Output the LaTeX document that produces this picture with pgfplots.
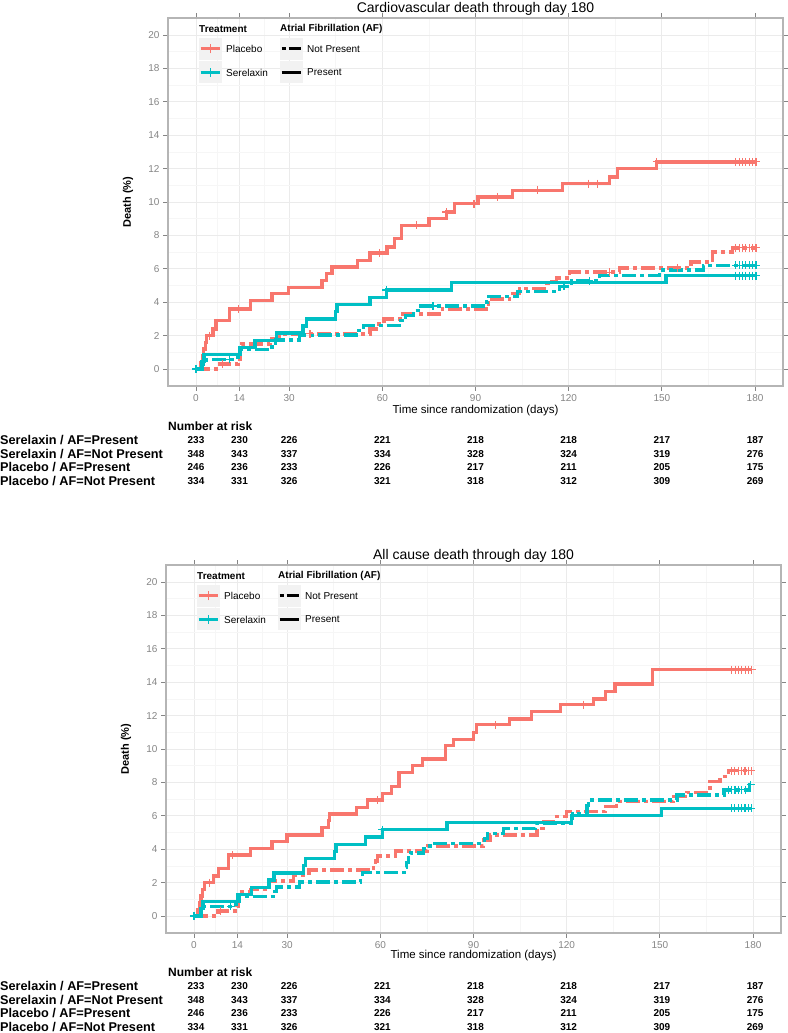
\documentclass[border=0pt]{standalone}
\usepackage{fontspec}
\setmainfont{Liberation Sans}
\usepackage{pgfplots}
\pgfplotsset{compat=1.18}
\definecolor{kmred}{HTML}{F8766D}
\definecolor{kmteal}{HTML}{00BFC4}
\definecolor{gridmaj}{HTML}{EBEBEB}
\definecolor{gridmin}{HTML}{F6F6F6}
\definecolor{frame}{HTML}{B5B5B5}
\definecolor{ticklab}{HTML}{858585}
\definecolor{keybg}{HTML}{F2F2F2}
\newcommand\fs[1]{\fontsize{#1}{#1}\selectfont}
\pgfplotsset{
  kmaxis/.style={
    scale only axis, width=615pt, height=367.4pt,
    xmin=-9, xmax=189, ymin=-1, ymax=21,
    xtick={0,14,30,60,90,120,150,180},
    ytick={0,2,4,6,8,10,12,14,16,18,20},
    minor xtick={7,22,45,75,105,135,165},
    minor ytick={1,3,5,7,9,11,13,15,17,19},
    grid=both,
    major grid style={gridmaj, line width=0.8pt},
    minor grid style={gridmin, line width=0.5pt},
    axis line style={frame, line width=2.2pt},
    tick style={ticklab, line width=0.8pt},
    tick align=outside, major tick length=5pt, minor tick length=0pt,
    ticklabel style={font=\fs{10}, text=ticklab},
    /pgf/number format/assume math mode=true,
    clip=false,
  },
  pres/.style={const plot, line width=3.3pt, line cap=butt, line join=miter},
  npres/.style={const plot, line width=3.3pt, line cap=butt, line join=miter, dash pattern=on 14pt off 4pt on 4pt off 4pt},
  cens/.style={only marks, mark=+, mark size=4pt, mark options={line width=1.1pt, solid}},
}
\newcommand\kmlegend{%
  \node[anchor=west, inner sep=0pt, font=\bfseries\fs{10}] at (199,1004) {Treatment};
  \node[anchor=west, inner sep=0pt, font=\bfseries\fs{10}] at (280,1004) {Atrial Fibrillation (AF)};
  \fill[keybg] (199,973) rectangle (221.5,995);
  \fill[keybg] (199,949.5) rectangle (221.5,971.5);
  \fill[keybg] (280,973) rectangle (302.5,995);
  \fill[keybg] (280,949.5) rectangle (302.5,971.5);
  \draw[kmred, line width=3pt] (200.5,984)--(220,984);
  \draw[kmred, line width=1pt] (210.25,979.5)--(210.25,988.5);
  \draw[kmteal, line width=3pt] (200.5,960.5)--(220,960.5);
  \draw[kmteal, line width=1pt] (210.25,956)--(210.25,965);
  \draw[black, line width=3pt] (281.5,984)--(285.5,984);
  \draw[black, line width=3pt] (288.5,984)--(301,984);
  \draw[black, line width=3pt] (281.5,960.5)--(301,960.5);
  \node[anchor=west, inner sep=0pt, font=\fs{10}] at (226,984) {Placebo};
  \node[anchor=west, inner sep=0pt, font=\fs{10}] at (226,960.5) {Serelaxin};
  \node[anchor=west, inner sep=0pt, font=\fs{10}] at (307,984) {Not Present};
  \node[anchor=west, inner sep=0pt, font=\fs{10}] at (307,960.5) {Present};
}
\newcommand\kmrisk{%
  \node[anchor=west, inner sep=0pt, font=\bfseries\fs{12}] at (168,607) {Number at risk};
  \node[anchor=west, inner sep=0pt, font=\bfseries\fs{12.7}] at (0,593) {Serelaxin / AF=Present};
  \node[anchor=west, inner sep=0pt, font=\bfseries\fs{12.7}] at (0,579.3) {Serelaxin / AF=Not Present};
  \node[anchor=west, inner sep=0pt, font=\bfseries\fs{12.7}] at (0,565.6) {Placebo / AF=Present};
  \node[anchor=west, inner sep=0pt, font=\bfseries\fs{12.7}] at (0,551.9) {Placebo / AF=Not Present};
  \foreach \x/\a/\b/\c/\d in {196/233/348/246/334, 239.5/230/343/236/331, 289.2/226/337/233/326,
      382.4/221/334/226/321, 475.5/218/328/217/318, 568.7/218/324/211/312,
      661.9/217/319/205/309, 755.1/187/276/175/269}{
    \node[inner sep=0pt, font=\bfseries\fs{10}] at (\x,593) {\a};
    \node[inner sep=0pt, font=\bfseries\fs{10}] at (\x,579.3) {\b};
    \node[inner sep=0pt, font=\bfseries\fs{10}] at (\x,565.6) {\c};
    \node[inner sep=0pt, font=\bfseries\fs{10}] at (\x,551.9) {\d};
  }
}
\begin{document}
\begin{tikzpicture}[x=1pt,y=1pt]
\path[use as bounding box] (0,0) rectangle (787,1033);
% ---------------- Top panel: cardiovascular death ----------------
\begin{axis}[kmaxis, at={(168pt,647.3pt)}, anchor=south west]
% Placebo, AF present
\addplot[pres, kmred] coordinates {(0,0) (1.5,0.4) (2,0.8) (2.5,1.2) (3,1.6) (3.5,2.0) (5.5,2.4) (6.5,2.9) (10.9,3.6) (17.6,4.1) (24.5,4.5) (29.7,4.9) (40.6,5.3) (42,5.7) (43.8,6.1) (52,6.5) (56,6.95) (61.5,7.3) (64,7.8) (66.1,8.6) (75,9.0) (80.6,9.4) (83.3,9.9) (90.8,10.3) (101.8,10.7) (118.1,11.1) (133.1,11.5) (135.8,12.0) (148.3,12.4) (180.3,12.4)};
% Placebo, AF not present
\addplot[npres, kmred] coordinates {(0,0) (7.5,0.3) (13.5,0.6) (14.2,1.2) (14.6,1.5) (23.8,1.8) (27,2.1) (56,2.4) (58,2.7) (60.5,3.0) (66.7,3.3) (79.3,3.6) (93.5,3.9) (94,4.2) (101,4.5) (104.2,4.8) (112.2,5.1) (113.3,5.25) (116,5.45) (120.3,5.8) (136.3,6.05) (159.4,6.4) (166.3,7.0) (172.7,7.25) (180.3,7.25)};
% Serelaxin, AF present
\addplot[pres, kmteal] coordinates {(0,0) (1.8,0.43) (2.6,0.86) (14.1,1.29) (19,1.72) (25.9,2.15) (34.5,2.58) (35.6,3.0) (45,3.44) (45.4,3.87) (56,4.3) (61.3,4.73) (82.2,5.16) (151.3,5.59) (180.3,5.59)};
% Serelaxin, AF not present
\addplot[npres, kmteal] coordinates {(0,0) (2.2,0.29) (3.5,0.58) (13.5,0.87) (14.3,1.16) (24.5,1.45) (25.6,1.74) (33.3,2.03) (52.5,2.32) (54,2.6) (66,2.9) (67.5,3.2) (70,3.5) (72.3,3.77) (93.7,4.06) (94.2,4.35) (103.6,4.66) (117.1,4.95) (121,5.27) (129.9,5.6) (149.3,5.92) (163.3,6.2) (180.3,6.2)};
% censoring marks
\addplot[cens, kmred] coordinates {(4.5,2.0) (13.8,3.6) (59.2,6.95) (70.9,8.6) (80.6,9.4) (89.5,9.9) (97.2,10.3) (109.9,10.7) (126.5,11.1) (129.2,11.1) (148.3,12.4) (173.8,12.4) (174.9,12.4) (176,12.4) (177,12.4) (178.1,12.4) (179.2,12.4) (180.3,12.4)};
\addplot[cens, kmred] coordinates {(8.5,0.3) (36.7,2.1) (133,5.8) (155,6.05) (173.8,7.25) (174.9,7.25) (176,7.25) (177,7.25) (178.1,7.25) (179.2,7.25) (180.3,7.25)};
\addplot[cens, kmteal] coordinates {(0,0) (61.3,4.73) (173.8,5.59) (174.9,5.59) (176,5.59) (177,5.59) (178.1,5.59) (179.2,5.59) (180.3,5.59)};
\addplot[cens, kmteal] coordinates {(10.9,0.58) (76.3,3.77) (118.5,4.95) (126.7,5.27) (173.8,6.2) (174.9,6.2) (176,6.2) (177,6.2) (178.1,6.2) (179.2,6.2) (180.3,6.2)};
\end{axis}
\node[font=\fs{14}, inner sep=0pt] at (475.5,1024.5) {Cardiovascular death through day 180};
\node[font=\fs{11.5}, inner sep=0pt] at (475.5,622) {Time since randomization (days)};
\node[font=\bfseries\fs{11}, rotate=90, inner sep=0pt] at (128,831) {Death (\%)};
\kmlegend
\kmrisk
% ---------------- Bottom panel: all cause death ----------------
\begin{axis}[kmaxis, at={(166pt,100.3pt)}, anchor=south west]
\addplot[pres, kmred] coordinates {(0,0) (1.2,0.4) (1.8,0.8) (2.3,1.2) (2.8,1.6) (3.3,2.0) (6.3,2.4) (8,2.85) (11.2,3.65) (18.1,4.05) (25.1,4.45) (30,4.85) (41.2,5.3) (43.3,5.7) (43.7,6.1) (52.3,6.5) (55.8,6.95) (60.7,7.35) (63.7,7.75) (66,8.6) (70.4,9.0) (73.5,9.4) (81,10.2) (83.6,10.55) (90,11.0) (91,11.45) (101.6,11.8) (108.6,12.25) (117.9,12.65) (128.7,13.0) (132.4,13.45) (135.6,13.9) (147.7,14.75) (179.6,14.75)};
\addplot[npres, kmred] coordinates {(0,0) (7.7,0.3) (13.9,0.6) (14.2,0.9) (14.4,1.2) (14.6,1.45) (18.1,1.6) (24.4,2.1) (32,2.45) (37,2.75) (57.8,3.05) (58.5,3.3) (59.2,3.6) (64.8,3.9) (75.3,4.2) (93.3,4.55) (95.4,4.85) (110.4,5.25) (112.5,5.65) (115.8,5.95) (120,6.25) (132.4,6.55) (136,6.85) (154.3,7.15) (158.7,7.4) (166.1,8.05) (169.4,8.35) (172,8.7) (179.5,8.7)};
\addplot[pres, kmteal] coordinates {(0,0) (2.2,0.43) (2.9,0.86) (14,1.29) (18.5,1.72) (24.2,2.15) (25.8,2.58) (35.2,3.01) (35.9,3.44) (45.3,3.87) (45.7,4.3) (55.2,4.73) (60.6,5.16) (81.5,5.59) (121.5,6.02) (150.6,6.45) (179.5,6.45)};
\addplot[npres, kmteal] coordinates {(0,0) (2.5,0.29) (3.2,0.58) (13.5,0.87) (14.5,1.16) (26,1.45) (26.5,1.74) (34,2.03) (53.7,2.32) (54.2,2.61) (67.8,2.9) (68.5,3.19) (69,3.48) (69.7,3.77) (74,4.06) (76,4.35) (93.5,4.65) (94.5,4.95) (99.7,5.25) (110,5.55) (121.5,5.85) (121.9,6.15) (126.5,6.6) (127,6.95) (155.5,7.25) (170.6,7.55) (178.8,7.85) (179.3,7.85)};
\addplot[cens, kmred] coordinates {(4.9,2.0) (12.5,3.65) (59.2,6.95) (97,11.45) (125.4,12.65) (173.2,14.75) (174.3,14.75) (175.3,14.75) (176.4,14.75) (177.5,14.75) (178.5,14.75) (179.6,14.75)};
\addplot[cens, kmred] coordinates {(8.5,0.3) (173,8.7) (174.1,8.7) (175.2,8.7) (176.3,8.7) (177.4,8.7) (178.5,8.7) (179.5,8.7)};
\addplot[cens, kmteal] coordinates {(0,0) (60.6,5.16) (173,6.45) (174.1,6.45) (175.2,6.45) (176.3,6.45) (177.4,6.45) (178.5,6.45) (179.5,6.45)};
\addplot[cens, kmteal] coordinates {(11.8,0.58) (172,7.55) (173.1,7.55) (174.2,7.55) (175.3,7.55) (176.4,7.55) (177.5,7.55) (179.3,7.85)};
\end{axis}
\node[font=\fs{14}, inner sep=0pt] at (473.5,477.5) {All cause death through day 180};
\node[font=\fs{11.5}, inner sep=0pt] at (473.5,77) {Time since randomization (days)};
\node[font=\bfseries\fs{11}, rotate=90, inner sep=0pt] at (126,284) {Death (\%)};
\begin{scope}[shift={(-2,-547)}]
\kmlegend
\end{scope}
\begin{scope}[shift={(0,-546)}]
\kmrisk
\end{scope}
\end{tikzpicture}
\end{document}
